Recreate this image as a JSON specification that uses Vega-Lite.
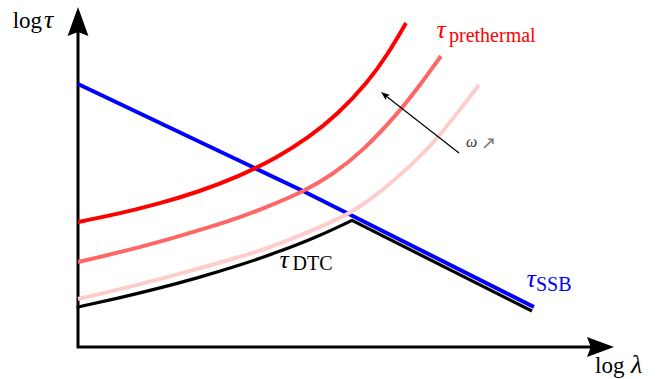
{
  "$schema": "https://vega.github.io/schema/vega-lite/v6.json",
  "width": 664,
  "height": 379,
  "padding": 0,
  "autosize": {"type": "none"},
  "background": "white",
  "config": {"view": {"stroke": null}},
  "datasets": {
    "curves": [
      {"series": "pre1", "lam": 0, "tau": 125},
      {"series": "pre1", "lam": 40, "tau": 133},
      {"series": "pre1", "lam": 80, "tau": 143},
      {"series": "pre1", "lam": 120, "tau": 155},
      {"series": "pre1", "lam": 160, "tau": 170},
      {"series": "pre1", "lam": 200, "tau": 190},
      {"series": "pre1", "lam": 230, "tau": 209},
      {"series": "pre1", "lam": 260, "tau": 233},
      {"series": "pre1", "lam": 290, "tau": 265},
      {"series": "pre1", "lam": 310, "tau": 293},
      {"series": "pre1", "lam": 328, "tau": 324},
      {"series": "pre2", "lam": 0, "tau": 85},
      {"series": "pre2", "lam": 52, "tau": 97},
      {"series": "pre2", "lam": 102, "tau": 111},
      {"series": "pre2", "lam": 152, "tau": 126},
      {"series": "pre2", "lam": 182, "tau": 137},
      {"series": "pre2", "lam": 227, "tau": 156},
      {"series": "pre2", "lam": 254, "tau": 172},
      {"series": "pre2", "lam": 285, "tau": 196},
      {"series": "pre2", "lam": 322, "tau": 236},
      {"series": "pre2", "lam": 342, "tau": 262},
      {"series": "pre2", "lam": 363, "tau": 291},
      {"series": "pre3", "lam": 0, "tau": 48},
      {"series": "pre3", "lam": 52, "tau": 60},
      {"series": "pre3", "lam": 112, "tau": 76},
      {"series": "pre3", "lam": 162, "tau": 90},
      {"series": "pre3", "lam": 197, "tau": 101},
      {"series": "pre3", "lam": 254, "tau": 125},
      {"series": "pre3", "lam": 274, "tau": 135},
      {"series": "pre3", "lam": 302, "tau": 154},
      {"series": "pre3", "lam": 340, "tau": 188},
      {"series": "pre3", "lam": 360, "tau": 209},
      {"series": "pre3", "lam": 401, "tau": 262},
      {"series": "DTC", "lam": 0, "tau": 40},
      {"series": "DTC", "lam": 40, "tau": 48.8},
      {"series": "DTC", "lam": 80, "tau": 58.4},
      {"series": "DTC", "lam": 120, "tau": 69.2},
      {"series": "DTC", "lam": 160, "tau": 81.2},
      {"series": "DTC", "lam": 200, "tau": 94.8},
      {"series": "DTC", "lam": 240, "tau": 110.4},
      {"series": "DTC", "lam": 274, "tau": 126.6},
      {"series": "DTC_line", "lam": 274, "tau": 126.6},
      {"series": "DTC_line", "lam": 454, "tau": 36},
      {"series": "SSB", "lam": 0, "tau": 263},
      {"series": "SSB", "lam": 225, "tau": 156},
      {"series": "SSB", "lam": 456, "tau": 40}
    ],
    "axes": [
      {"lam": 0, "tau": 316, "order": 1},
      {"lam": 0, "tau": 0, "order": 2},
      {"lam": 514, "tau": 0, "order": 3}
    ],
    "heads": [
      {"head": "y", "lam": 0, "tau": 325.5},
      {"head": "x", "lam": 522.5, "tau": 0}
    ],
    "arrow": [
      {"lam": 381, "tau": 194, "order": 1},
      {"lam": 308, "tau": 251, "order": 2}
    ],
    "arrowtip": [
      {"lam": 306.5, "tau": 252.2}
    ],
    "labels": [
      {"role": "symbol", "text": "τ", "lam": -34, "tau": 318.7, "series": "axis"},
      {"role": "symbol", "text": "λ", "lam": 553, "tau": -26, "series": "axis"},
      {"role": "symbol", "text": "τ", "lam": 358.5, "tau": 309, "series": "prethermal"},
      {"role": "symbol", "text": "τ", "lam": 201.5, "tau": 79, "series": "DTC"},
      {"role": "symbol", "text": "τ", "lam": 448.5, "tau": 60, "series": "SSB"},
      {"role": "word", "text": "log", "lam": -65.3, "tau": 318.7, "series": "axis"},
      {"role": "word", "text": "log", "lam": 517, "tau": -26, "series": "axis"},
      {"role": "sub", "text": "prethermal", "lam": 371, "tau": 305, "series": "prethermal"},
      {"role": "sub", "text": "DTC", "lam": 214.5, "tau": 77, "series": "DTC"},
      {"role": "sub", "text": "SSB", "lam": 458, "tau": 56.3, "series": "SSB"},
      {"role": "omega", "text": "ω", "lam": 388, "tau": 200, "series": "axis"},
      {"role": "uparrow", "text": "↗", "lam": 403, "tau": 198, "series": "axis"}
    ]
  },
  "encoding": {
    "x": {"field": "lam", "type": "quantitative", "scale": {"domain": [-78, 586], "nice": false, "zero": false}, "axis": null},
    "y": {"field": "tau", "type": "quantitative", "scale": {"domain": [-32, 347], "nice": false, "zero": false}, "axis": null}
  },
  "layer": [
    {
      "data": {"name": "axes"},
      "mark": {"type": "line", "color": "black", "strokeWidth": 3, "strokeJoin": "miter", "strokeCap": "butt"},
      "encoding": {"order": {"field": "order", "type": "quantitative"}}
    },
    {
      "data": {"name": "heads"},
      "transform": [{"filter": "datum.head === 'y'"}],
      "mark": {"type": "point", "shape": "M0,-1L0.72,1L0,0.72L-0.72,1Z", "size": 841, "filled": true, "color": "black", "opacity": 1, "strokeWidth": 0}
    },
    {
      "data": {"name": "heads"},
      "transform": [{"filter": "datum.head === 'x'"}],
      "mark": {"type": "point", "shape": "M1,0L-1,0.74L-0.72,0L-1,-0.74Z", "size": 729, "filled": true, "color": "black", "opacity": 1, "strokeWidth": 0}
    },
    {
      "data": {"name": "curves"},
      "transform": [{"filter": "datum.series === 'DTC'"}],
      "mark": {"type": "line", "interpolate": "basis", "color": "black", "strokeWidth": 3.2, "strokeCap": "round"}
    },
    {
      "data": {"name": "curves"},
      "transform": [{"filter": "datum.series === 'DTC_line'"}],
      "mark": {"type": "line", "color": "black", "strokeWidth": 3.2, "strokeCap": "butt"}
    },
    {
      "data": {"name": "curves"},
      "transform": [{"filter": "datum.series === 'SSB'"}],
      "mark": {"type": "line", "color": "#0000ff", "strokeWidth": 4, "strokeCap": "butt"}
    },
    {
      "data": {"name": "curves"},
      "transform": [{"filter": "datum.series === 'pre3'"}],
      "mark": {"type": "line", "interpolate": "basis", "color": "#ffcccc", "strokeWidth": 4, "strokeCap": "butt"}
    },
    {
      "data": {"name": "curves"},
      "transform": [{"filter": "datum.series === 'pre2'"}],
      "mark": {"type": "line", "interpolate": "basis", "color": "#ff6666", "strokeWidth": 4, "strokeCap": "butt"}
    },
    {
      "data": {"name": "curves"},
      "transform": [{"filter": "datum.series === 'pre1'"}],
      "mark": {"type": "line", "interpolate": "basis", "color": "#ff0000", "strokeWidth": 4, "strokeCap": "butt"}
    },
    {
      "data": {"name": "arrow"},
      "mark": {"type": "line", "color": "black", "strokeWidth": 1.2},
      "encoding": {"order": {"field": "order", "type": "quantitative"}}
    },
    {
      "data": {"name": "arrowtip"},
      "mark": {"type": "point", "shape": "M0,-1L0.75,1L0,0.55L-0.75,1Z", "size": 81, "angle": -52, "filled": true, "color": "black", "opacity": 1, "strokeWidth": 0}
    },
    {
      "data": {"name": "labels"},
      "transform": [{"filter": "datum.role === 'symbol'"}],
      "mark": {"type": "text", "align": "left", "baseline": "alphabetic", "font": "Liberation Serif", "fontStyle": "italic", "fontSize": 26},
      "encoding": {
        "text": {"field": "text"},
        "color": {"field": "series", "type": "nominal", "scale": {"domain": ["axis", "prethermal", "DTC", "SSB"], "range": ["#000000", "#ff0000", "#000000", "#0000ff"]}, "legend": null}
      }
    },
    {
      "data": {"name": "labels"},
      "transform": [{"filter": "datum.role === 'word'"}],
      "mark": {"type": "text", "align": "left", "baseline": "alphabetic", "font": "Liberation Serif", "fontSize": 23, "color": "black"},
      "encoding": {"text": {"field": "text"}}
    },
    {
      "data": {"name": "labels"},
      "transform": [{"filter": "datum.role === 'sub'"}],
      "mark": {"type": "text", "align": "left", "baseline": "alphabetic", "font": "Liberation Serif", "fontSize": 20},
      "encoding": {
        "text": {"field": "text"},
        "color": {"field": "series", "type": "nominal", "scale": {"domain": ["axis", "prethermal", "DTC", "SSB"], "range": ["#000000", "#ff0000", "#000000", "#0000ff"]}, "legend": null}
      }
    },
    {
      "data": {"name": "labels"},
      "transform": [{"filter": "datum.role === 'omega'"}],
      "mark": {"type": "text", "align": "left", "baseline": "alphabetic", "font": "Liberation Serif", "fontStyle": "italic", "fontSize": 16, "color": "#333333"},
      "encoding": {"text": {"field": "text"}}
    },
    {
      "data": {"name": "labels"},
      "transform": [{"filter": "datum.role === 'uparrow'"}],
      "mark": {"type": "text", "align": "left", "baseline": "alphabetic", "font": "DejaVu Sans", "fontSize": 18, "color": "#777777"},
      "encoding": {"text": {"field": "text"}}
    }
  ]
}
